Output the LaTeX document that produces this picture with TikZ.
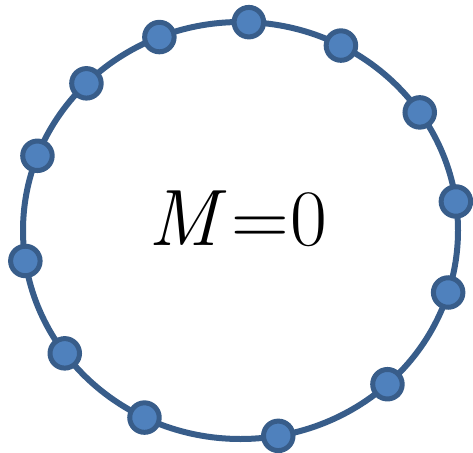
\documentclass[tikz,border=0pt]{standalone}
\usepackage{fontspec}
\usetikzlibrary{calc}
\definecolor{ringc}{HTML}{385D8A}
\definecolor{dotfill}{HTML}{4F81BD}
\begin{document}
\begin{tikzpicture}[x=1pt,y=-1pt,
  ring/.style={draw=ringc,line width=6pt},
  dot/.style={circle,draw=ringc,fill=dotfill,line width=5pt,minimum size=29.5pt,inner sep=0pt}]
\useasboundingbox (0,0) rectangle (473,452);
\coordinate (c) at (240.5,230.5);
\draw[ring] (c) ellipse [x radius=217.5, y radius=208.5];
\foreach \a [count=\i] in {87.8,62.5,34.5,8.0,-17.3,-47.5,-80,-116.2,-143.9,-171.6,159,135.1,111.9}{
  \node[dot] (n\i) at ($(c)+({217.5*cos(\a)},{-208.5*sin(\a)})$) {};
}
\node[inner sep=0pt,anchor=base west] (lbl) at (148,245) {\fontsize{80}{80}\selectfont\textit{M}\hspace{5pt}=\hspace{2pt}0};
\end{tikzpicture}
\end{document}
